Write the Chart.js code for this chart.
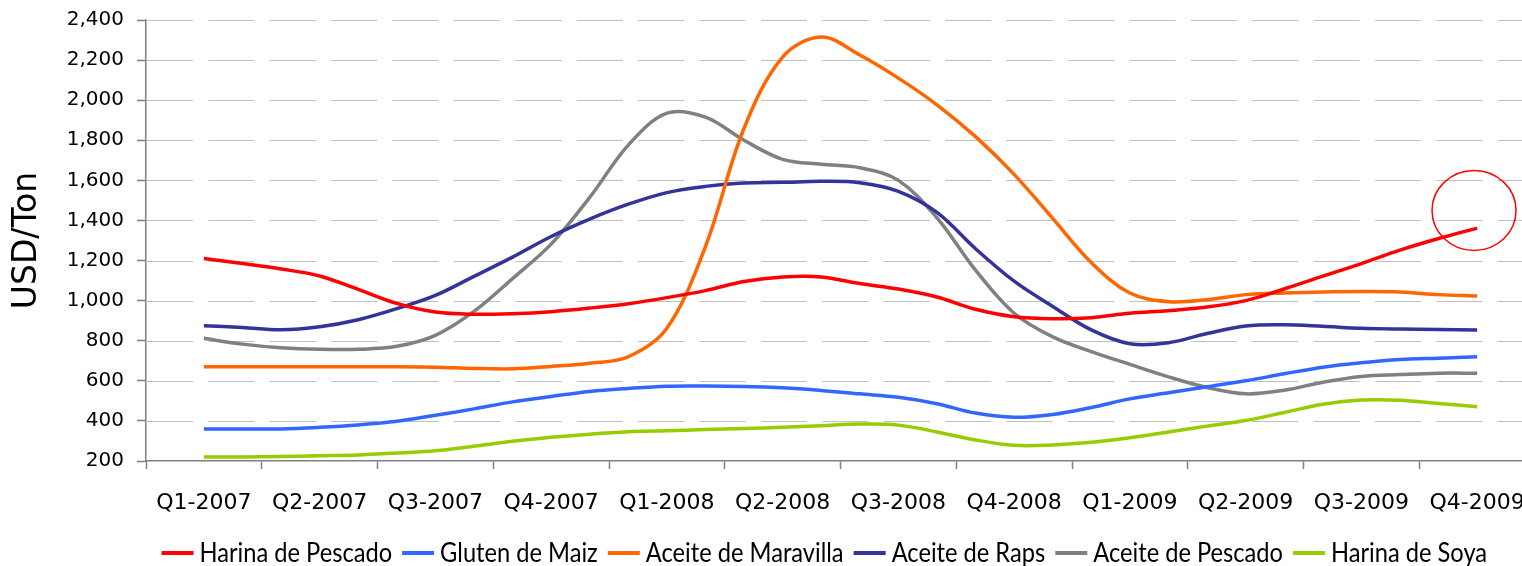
<!DOCTYPE html>
<html>
<head>
<meta charset="utf-8">
<script src="https://cdn.jsdelivr.net/npm/chart.js@4.4.1/dist/chart.umd.min.js"></script>
<style>
  html, body { margin: 0; padding: 0; background: #ffffff; overflow: hidden; }
  #wrap { width: 1522px; height: 566px; overflow: hidden; position: relative; }
  canvas { display: block; }
</style>
</head>
<body>
<div id="wrap"><canvas id="c" width="1535" height="566"></canvas></div>
<script>
// Quarter tick labels (centred on the middle month of each quarter)
const quarterLabels = ['Q1-2007','Q2-2007','Q3-2007','Q4-2007','Q1-2008','Q2-2008','Q3-2008','Q4-2008','Q1-2009','Q2-2009','Q3-2009','Q4-2009'];
// monthly observations: index 0 = middle of Q1-2007 ... index 33 = middle of Q4-2009
const monthIndex = Array.from({length: 34}, (_, i) => i);

const seriesNames = ['Harina de Pescado','Gluten de Maiz','Aceite de Maravilla','Aceite de Raps','Aceite de Pescado','Harina de Soya'];

const harinaPescado = [1210,1185,1158,1123,1056,986,943,932,935,945,963,985,1015,1050,1095,1118,1118,1085,1058,1018,957,920,910,915,937,950,968,1000,1058,1122,1185,1252,1310,1362];
const glutenMaiz    = [360,360,360,368,380,398,428,460,495,522,547,562,573,574,572,565,552,535,518,486,439,418,432,467,510,540,570,600,635,668,690,706,713,720];
const aceiteMaravilla = [670,670,670,670,670,670,668,662,660,672,688,720,862,1270,1860,2215,2315,2225,2110,1977,1818,1630,1410,1190,1038,995,1005,1030,1038,1043,1045,1043,1030,1023];
const aceiteRaps    = [875,866,855,870,905,960,1026,1121,1217,1320,1407,1481,1539,1570,1587,1590,1595,1588,1545,1440,1259,1097,971,854,785,790,836,874,880,872,862,858,856,854];
const aceitePescado = [812,783,765,757,757,772,827,946,1110,1282,1515,1776,1935,1915,1800,1705,1680,1663,1600,1413,1152,937,819,746,682,620,567,535,553,593,622,631,638,638];
const harinaSoya    = [220,220,222,226,230,240,251,274,298,318,334,346,351,357,362,368,376,384,379,345,305,278,280,293,316,345,374,402,442,483,504,503,487,471];

const seriesValues = [harinaPescado, glutenMaiz, aceiteMaravilla, aceiteRaps, aceitePescado, harinaSoya];
const seriesColors = ['#ff0000','#3366ff','#ff6600','#333399','#808080','#99cc00'];

const yTickValues = [200,400,600,800,1000,1200,1400,1600,1800,2000,2200,2400];
const xTickValues = quarterLabels.map((_, i) => i * 3);

// highlighted point (circle annotation around the last Harina de Pescado value)
const highlight = { x: 32.92, y: 1450 };

const datasets = seriesNames.map((name, k) => ({
  label: name,
  data: seriesValues[k].map((v, i) => ({ x: monthIndex[i], y: v })),
  borderColor: seriesColors[k],
  backgroundColor: seriesColors[k],
  borderWidth: 3.5,
  pointRadius: 0,
  pointHoverRadius: 0,
  tension: 0.35,
  fill: false
}));

// dashed horizontal grid lines
const dashedGrid = {
  id: 'dashedGrid',
  beforeDatasetsDraw(chart, args, opts) {
    const ctx = chart.ctx;
    const ys = chart.scales.y;
    const area = chart.chartArea;
    ctx.save();
    ctx.strokeStyle = opts.color;
    ctx.lineWidth = opts.lineWidth;
    ctx.setLineDash(opts.dash);
    ys.ticks.forEach(t => {
      if (t.value === ys.min) return;
      const y = Math.round(ys.getPixelForValue(t.value)) + 0.5;
      ctx.beginPath();
      ctx.moveTo(area.left + 1, y);
      ctx.lineTo(area.right, y);
      ctx.stroke();
    });
    ctx.restore();
  }
};

const lineLegend = {
  id: 'lineLegend',
  afterDraw(chart, args, opts) {
    const ctx = chart.ctx;
    ctx.save();
    ctx.font = opts.font;
    ctx.textBaseline = 'middle';
    ctx.textAlign = 'left';
    let x = chart.chartArea.left + opts.offsetX;
    const y = chart.chartArea.bottom + opts.offsetY;
    chart.data.datasets.forEach(ds => {
      ctx.strokeStyle = ds.borderColor;
      ctx.lineWidth = opts.lineWidth;
      ctx.beginPath();
      ctx.moveTo(x, y);
      ctx.lineTo(x + opts.lineLen, y);
      ctx.stroke();
      x += opts.lineLen + opts.gap;
      const w = ctx.measureText(ds.label).width * opts.scaleX;
      ctx.save();
      ctx.translate(x, y + opts.textDy);
      ctx.scale(opts.scaleX, 1);
      ctx.fillStyle = '#000000';
      ctx.fillText(ds.label, 0, 0);
      ctx.restore();
      x += w + opts.spacing;
    });
    ctx.restore();
  }
};

const circleMark = {
  id: 'circleMark',
  afterDatasetsDraw(chart, args, opts) {
    const ctx = chart.ctx;
    const cx = chart.scales.x.getPixelForValue(highlight.x);
    const cy = chart.scales.y.getPixelForValue(highlight.y);
    ctx.save();
    ctx.strokeStyle = opts.color;
    ctx.lineWidth = opts.lineWidth;
    ctx.beginPath();
    ctx.ellipse(cx, cy, opts.rx, opts.ry, 0, 0, Math.PI * 2);
    ctx.stroke();
    ctx.restore();
  }
};

new Chart(document.getElementById('c'), {
  type: 'line',
  data: { datasets },
  plugins: [dashedGrid, lineLegend, circleMark],
  options: {
    responsive: false,
    animation: false,
    events: [],
    layout: { padding: { top: 20, right: 0, bottom: 45, left: 0 } },
    plugins: {
      legend: { display: false },
      tooltip: { enabled: false },
      dashedGrid: { color: '#c0c0c0', lineWidth: 1, dash: [46, 15.4] },
      lineLegend: { font: '26px Lato, "Liberation Sans", sans-serif', scaleX: 0.91, offsetX: 15.5, offsetY: 92, lineLen: 32, gap: 6, spacing: 10, lineWidth: 4, textDy: 1 },
      circleMark: { color: '#ff0000', lineWidth: 1.5, rx: 42, ry: 40 }
    },
    scales: {
      x: {
        type: 'linear',
        min: -1.5,
        max: 34.5,
        afterBuildTicks: (scale) => { scale.ticks = xTickValues.map(v => ({ value: v })); },
        afterFit: (scale) => { scale.height = 60; scale.paddingLeft = 0; scale.paddingRight = 0; },
        ticks: {
          autoSkip: false,
          maxRotation: 0,
          minRotation: 0,
          padding: 21,
          color: '#000000',
          font: { family: '"DejaVu Sans"', size: 22 },
          callback: (value, index) => quarterLabels[index]
        },
        grid: {
          offset: true,
          drawOnChartArea: false,
          drawTicks: true,
          tickLength: 8,
          tickColor: '#808080',
          tickWidth: 1.5
        },
        border: { display: true, color: '#808080', width: 1.5 }
      },
      y: {
        type: 'linear',
        min: 200,
        max: 2400,
        afterBuildTicks: (scale) => { scale.ticks = yTickValues.map(v => ({ value: v })); },
        afterFit: (scale) => { scale.width = 146; scale.paddingTop = 0; scale.paddingBottom = 0; },
        ticks: {
          padding: 13,
          color: '#000000',
          font: { family: '"DejaVu Sans"', size: 20 },
          callback: (value) => value.toLocaleString('en-US')
        },
        grid: {
          drawOnChartArea: false,
          drawTicks: true,
          tickLength: 9,
          tickColor: '#808080',
          tickWidth: 1.5
        },
        border: { display: true, color: '#808080', width: 1.5 },
        title: {
          display: true,
          text: 'USD/Ton',
          color: '#000000',
          font: { family: '"DejaVu Sans"', size: 33 },
          padding: { top: 8, bottom: 0 }
        }
      }
    }
  }
});
</script>
</body>
</html>
